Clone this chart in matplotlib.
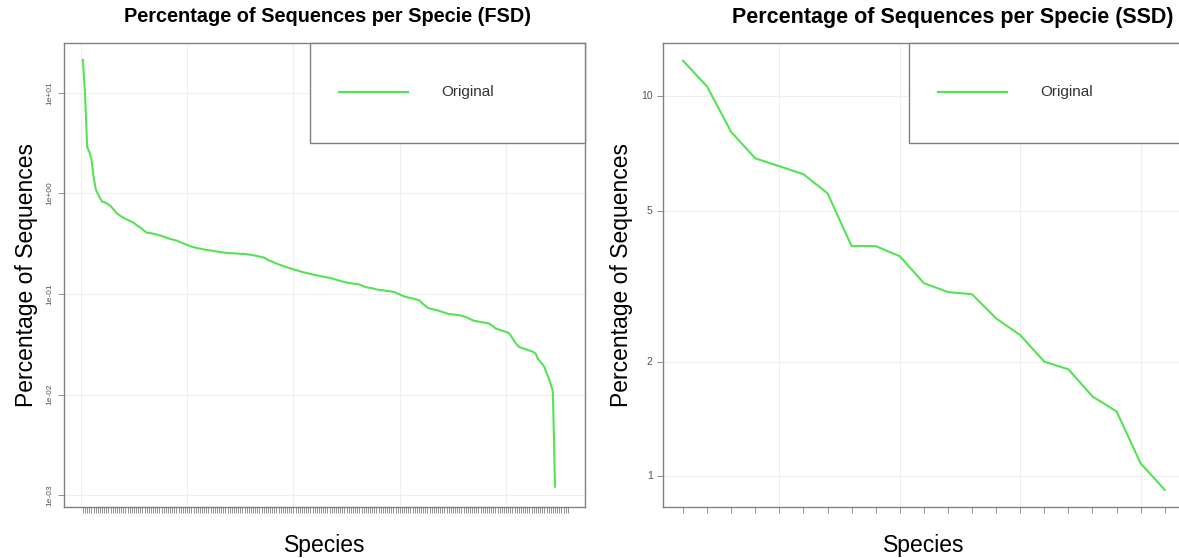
import numpy as np
import matplotlib
matplotlib.use("Agg")
import matplotlib.pyplot as plt
from matplotlib.patches import Rectangle

plt.rcParams['font.family'] = ['Liberation Sans', 'DejaVu Sans']

# FSD: percentage per species (223 species with reads, 229 species on the axis)
fsd_n_species = 229
fsd_pct = [
    21.3, 9.55, 2.90, 2.59, 2.20, 1.46, 1.11, 0.989, 0.902, 0.833,
    0.818, 0.801, 0.777, 0.751, 0.709, 0.670, 0.634, 0.611, 0.590, 0.576,
    0.560, 0.547, 0.533, 0.521, 0.509, 0.489, 0.472, 0.458, 0.439, 0.422,
    0.407, 0.405, 0.402, 0.398, 0.394, 0.388, 0.383, 0.378, 0.371, 0.365,
    0.359, 0.353, 0.349, 0.345, 0.340, 0.333, 0.327, 0.320, 0.314, 0.308,
    0.302, 0.296, 0.292, 0.289, 0.285, 0.283, 0.280, 0.277, 0.275, 0.273,
    0.271, 0.269, 0.267, 0.265, 0.262, 0.261, 0.259, 0.257, 0.256, 0.255,
    0.254, 0.254, 0.253, 0.252, 0.251, 0.251, 0.250, 0.249, 0.247, 0.245,
    0.243, 0.241, 0.238, 0.236, 0.233, 0.231, 0.225, 0.218, 0.214, 0.210,
    0.205, 0.201, 0.197, 0.194, 0.190, 0.187, 0.184, 0.181, 0.178, 0.175,
    0.173, 0.171, 0.168, 0.166, 0.164, 0.162, 0.160, 0.158, 0.156, 0.155,
    0.153, 0.152, 0.150, 0.149, 0.147, 0.146, 0.145, 0.143, 0.141, 0.139,
    0.137, 0.135, 0.133, 0.132, 0.130, 0.129, 0.128, 0.127, 0.126, 0.1255,
    0.124, 0.122, 0.119, 0.117, 0.116, 0.115, 0.114, 0.113, 0.111, 0.110,
    0.1096, 0.109, 0.108, 0.107, 0.107, 0.106, 0.105, 0.103, 0.101, 0.0989,
    0.0968, 0.0948, 0.0933, 0.0923, 0.0912, 0.0902, 0.0892, 0.0880, 0.0866, 0.0829,
    0.0795, 0.0763, 0.0732, 0.0717, 0.0709, 0.0701, 0.0693, 0.0685, 0.0674, 0.0663,
    0.0653, 0.0643, 0.0632, 0.0629, 0.0625, 0.0622, 0.0619, 0.0615, 0.0607, 0.0598,
    0.0590, 0.0579, 0.0565, 0.0551, 0.0541, 0.0536, 0.0531, 0.0527, 0.0522, 0.0518,
    0.0513, 0.0508, 0.0492, 0.0474, 0.0455, 0.0448, 0.0440, 0.0433, 0.0427, 0.0420,
    0.0413, 0.0391, 0.0362, 0.0337, 0.0314, 0.0298, 0.0292, 0.0288, 0.0283, 0.0278,
    0.0273, 0.0268, 0.0264, 0.0253, 0.0226, 0.0213, 0.0202, 0.0188, 0.0165, 0.0146,
    0.0127, 0.0107, 0.00121,
]

# SSD: percentage per species
ssd_pct = [12.4, 10.6, 8.05, 6.86, 6.54, 6.23, 5.55, 4.03, 4.03, 3.79,
           3.22, 3.05, 3.01, 2.60, 2.35, 2.00, 1.91, 1.62, 1.48, 1.08, 0.92]

fsd_yticks = [1e-3, 1e-2, 1e-1, 1e0, 1e1]
fsd_yticklabels = ["1e-03", "1e-02", "1e-01", "1e+00", "1e+01"]
ssd_yticks = [1, 2, 5, 10]
ssd_yticklabels = ["1", "2", "5", "10"]

line_color = '#55e355'
frame_color = '#808080'
grid_color = '#efefef'

fig = plt.figure(figsize=(11.79, 5.58), dpi=100)
ax1 = fig.add_axes([64 / 1179, 51 / 558, 521 / 1179, 464 / 558])
ax2 = fig.add_axes([663 / 1179, 51 / 558, 521 / 1179, 464 / 558])


def style_axes(ax, n, xlim, ylim, yticks, yticklabels, gridstep, rot):
    ax.set_yscale('log')
    ax.set_xlim(*xlim)
    ax.set_ylim(*ylim)
    ax.set_xticks(np.arange(1, n + 1))
    ax.set_xticklabels([])
    ax.set_yticks(yticks)
    ax.set_yticklabels(yticklabels, rotation=rot, va='center',
                       fontsize=6 if rot else 7.5, color='#555555')
    ax.yaxis.set_minor_locator(matplotlib.ticker.NullLocator())
    ax.tick_params(axis='both', length=4.5, width=0.6, color=frame_color, pad=3)
    for y in yticks:
        ax.axhline(y, color=grid_color, lw=0.8, zorder=0)
    for x in range(0, n + 1, gridstep):
        ax.axvline(x, color=grid_color, lw=0.8, zorder=0)
    for s in ax.spines.values():
        s.set_color(frame_color)
        s.set_linewidth(1.0)
    ax.set_ylabel("Percentage of Sequences", fontsize=16.5, labelpad=6)
    ax.set_xlabel("Species", fontsize=16.5, labelpad=12)

    # legend box in the top right corner
    ax.add_patch(Rectangle((0.472, 0.784), 0.528, 0.216, transform=ax.transAxes,
                           facecolor='white', edgecolor=frame_color, lw=1.0,
                           zorder=5, clip_on=False))
    ax.plot([0.528, 0.660], [0.894, 0.894], transform=ax.transAxes,
            color=line_color, lw=1.6, zorder=6)
    ax.text(0.724, 0.894, "Original", transform=ax.transAxes, fontsize=11,
            color='#333333', va='center', ha='left', zorder=6)


fsd_x = np.arange(1, len(fsd_pct) + 1)
ax1.plot(fsd_x, fsd_pct, color=line_color, lw=1.5, zorder=3)
style_axes(ax1, fsd_n_species, (-7.9, 237.1), (7.6e-4, 31.4),
           fsd_yticks, fsd_yticklabels, 50, 90)

ssd_x = np.arange(1, len(ssd_pct) + 1)
ax2.plot(ssd_x, ssd_pct, color=line_color, lw=1.5, zorder=3)
style_axes(ax2, len(ssd_pct), (0.17, 21.8), (0.829, 13.8),
           ssd_yticks, ssd_yticklabels, 5, 0)

fig.text(328 / 1179, 1 - 17 / 558, "Percentage of Sequences per Specie (FSD)",
         ha='center', va='center', fontsize=14.3, fontweight='bold')
fig.text(953 / 1179, 1 - 17 / 558, "Percentage of Sequences per Specie (SSD)",
         ha='center', va='center', fontsize=15.5, fontweight='bold')

fig.savefig("out.png", dpi=100)
